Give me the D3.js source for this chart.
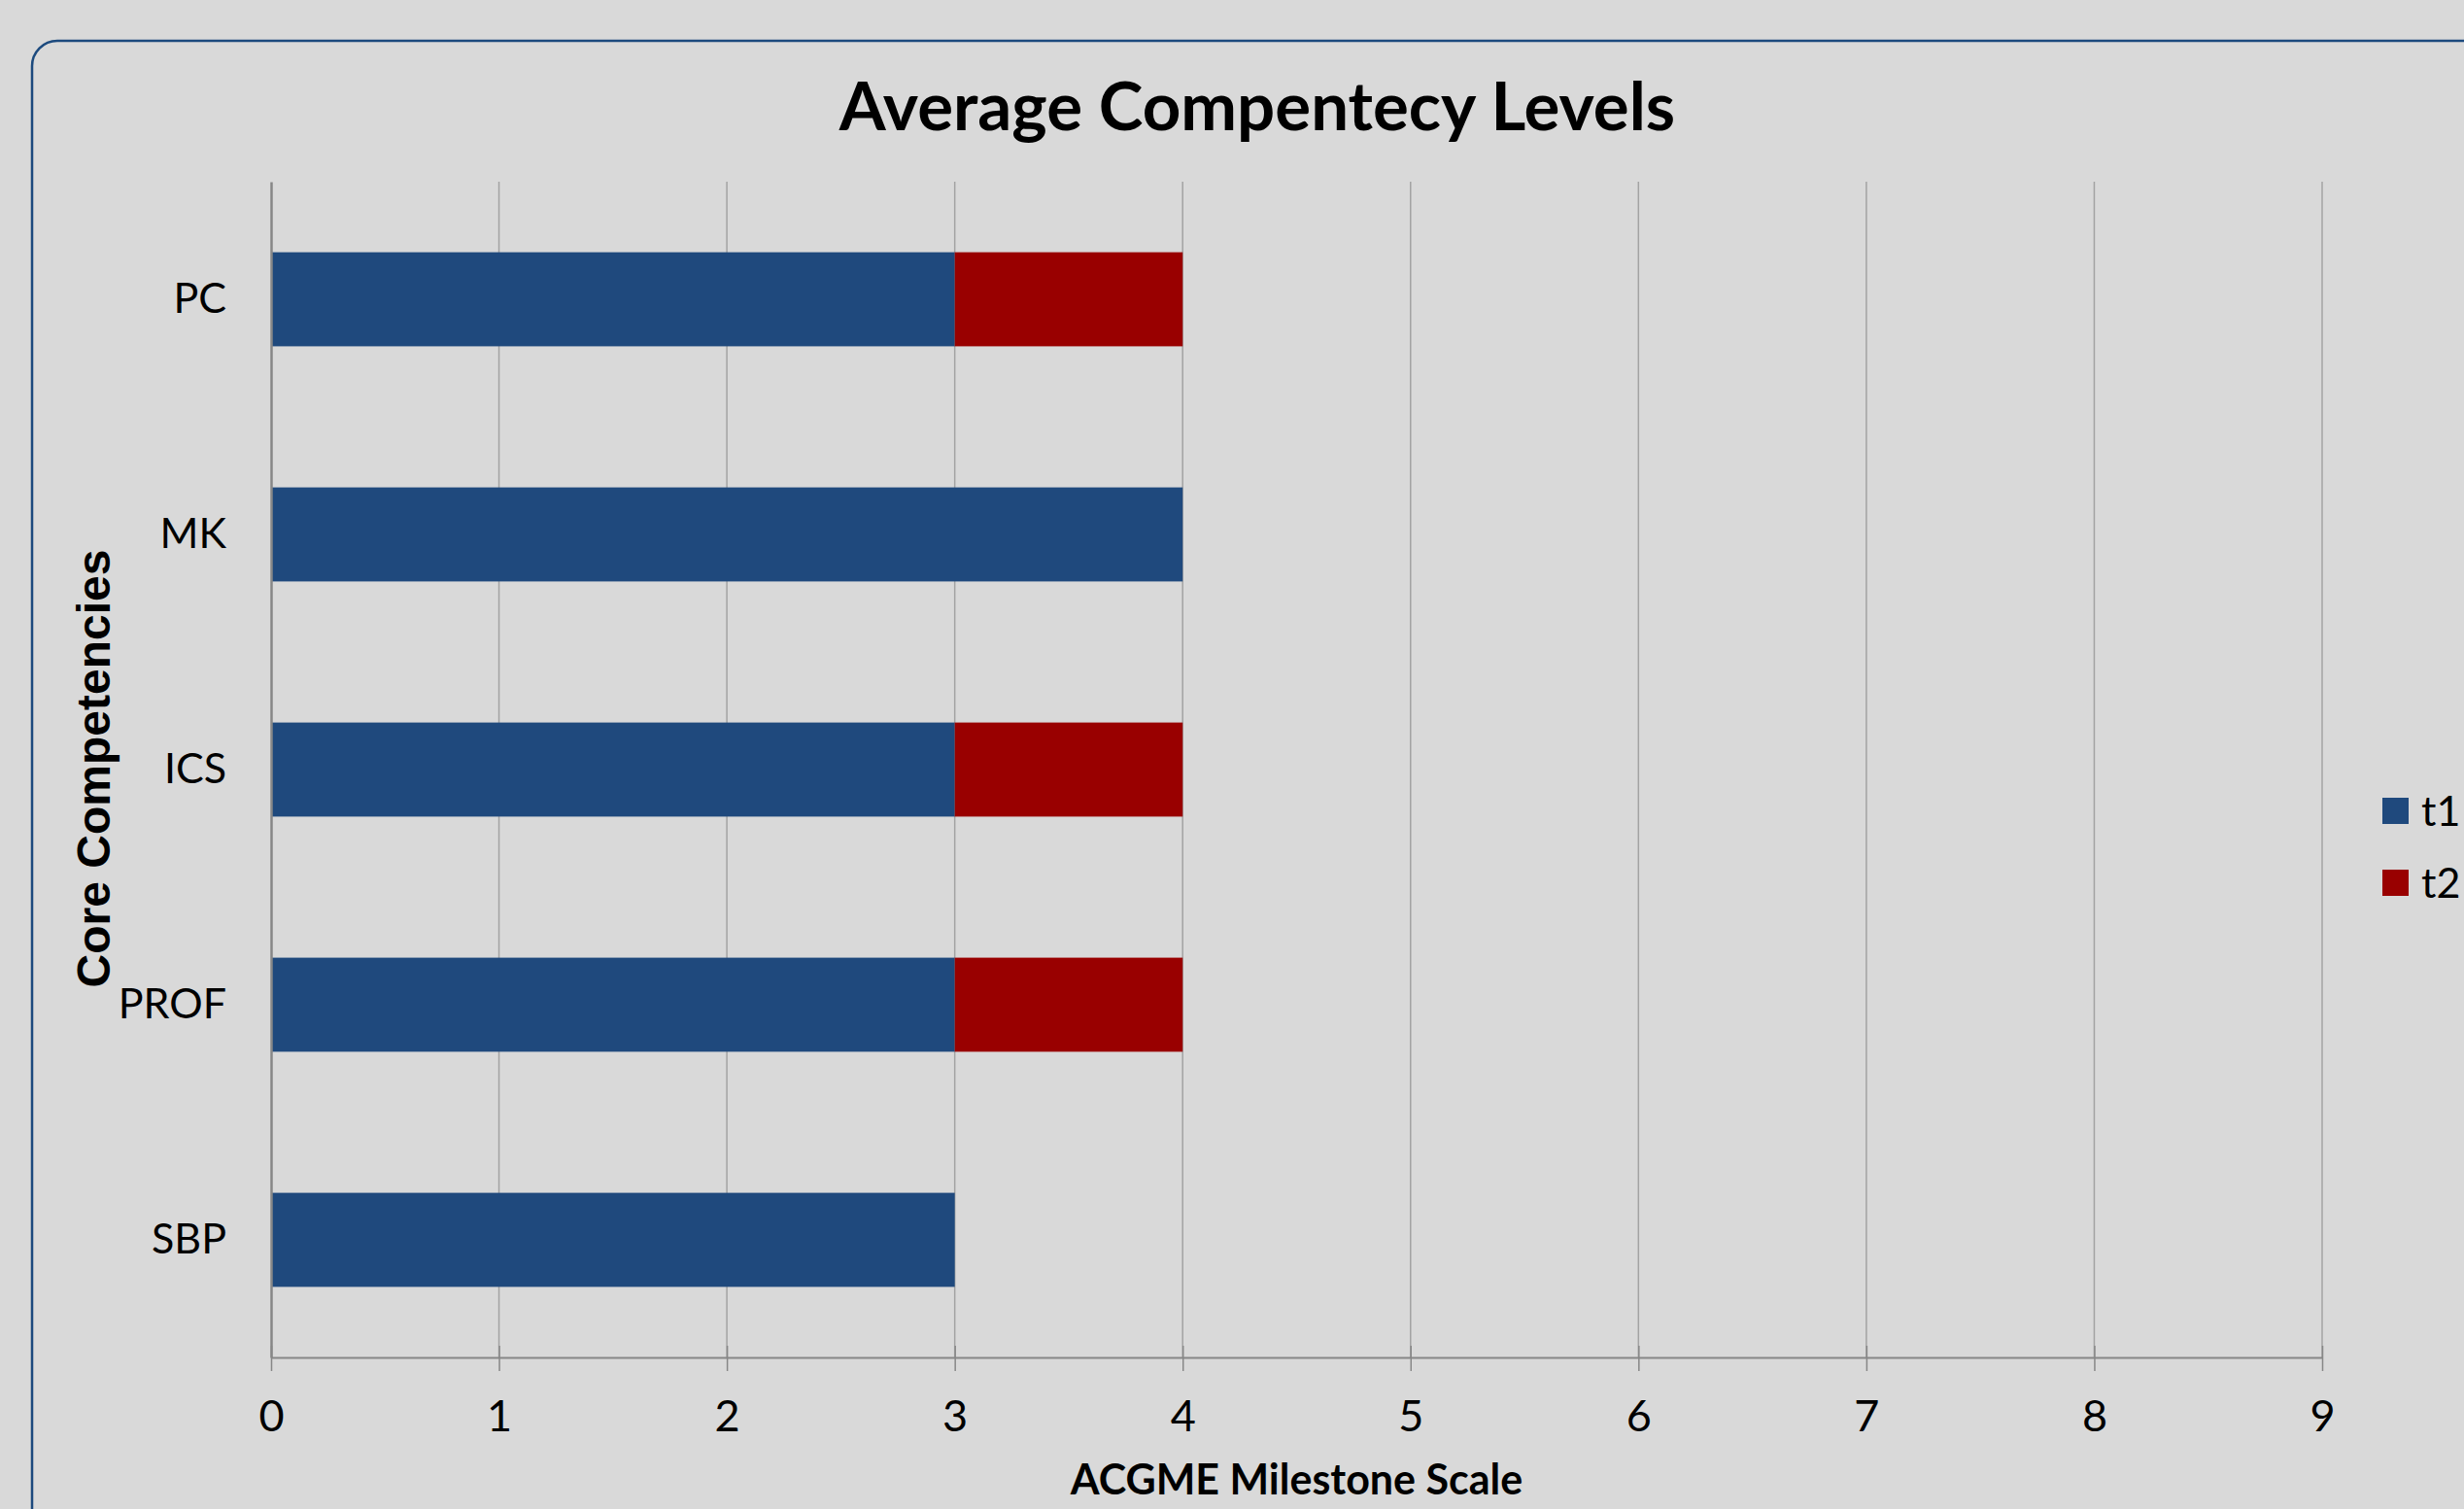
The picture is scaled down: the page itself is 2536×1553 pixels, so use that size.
<!DOCTYPE html>
<html>
<head>
<meta charset="utf-8">
<script src="https://cdn.jsdelivr.net/npm/d3@7"></script>
<style>
  body { margin: 0; background: #d9d9d9; overflow: hidden; }
  svg { display: block; }
</style>
</head>
<body>
<div id="container"></div>
<script>
// data
var categories = ["PC", "MK", "ICS", "PROF", "SBP"];
var seriesNames = ["t1", "t2"];
var t1Values = [3, 4, 3, 3, 3];
var t2Values = [1, 0, 1, 1, 0];
var xTickValues = [0, 1, 2, 3, 4, 5, 6, 7, 8, 9];

(function () {
    var width = 2536;
    var height = 1553;
    var margin = { left: 279, right: 146, top: 187, bottom: 156 };
    var labelFont = "Lato, 'Open Sans', sans-serif";

    var svg = d3.select("#container")
        .append("svg")
        .attr("width", width)
        .attr("height", height);

    // chart frame with rounded corner (runs off the page right and bottom)
    svg.append("rect")
        .attr("x", 33)
        .attr("y", 42)
        .attr("width", 2650)
        .attr("height", 1650)
        .attr("rx", 26)
        .style("fill", "#d9d9d9")
        .style("stroke", "#1c4a7e")
        .style("stroke-width", 2.5);

    // build rows for d3.stack()
    var rows = categories.map(function (c, i) {
        return { cat: c, t1: t1Values[i], t2: t2Values[i] };
    });
    var stacked = d3.stack().keys(seriesNames)(rows);

    var x = d3.scaleLinear()
        .domain([0, 9])
        .range([margin.left, width - margin.right]);

    var y = d3.scaleBand()
        .domain(categories)
        .range([margin.top, height - margin.bottom])
        .paddingInner(0.6)
        .paddingOuter(0.3);

    var color = d3.scaleOrdinal()
        .domain(seriesNames)
        .range(["#1f497d", "#990000"]);

    // vertical gridlines
    svg.append("g")
        .selectAll("line")
        .data(xTickValues.slice(1))
        .enter()
        .append("line")
        .attr("x1", function (d) { return x(d); })
        .attr("x2", function (d) { return x(d); })
        .attr("y1", margin.top)
        .attr("y2", height - margin.bottom)
        .style("stroke", "#a3a3a3")
        .style("stroke-width", 1.5);

    // bars
    svg.append("g")
        .selectAll("g")
        .data(stacked)
        .enter()
        .append("g")
        .style("fill", function (d) { return color(d.key); })
        .selectAll("rect")
        .data(function (d) { return d; })
        .enter()
        .append("rect")
        .attr("x", function (d) { return x(d[0]); })
        .attr("y", function (d) { return y(d.data.cat); })
        .attr("width", function (d) { return x(d[1]) - x(d[0]); })
        .attr("height", y.bandwidth());

    // x axis with crossing ticks
    var xAxis = svg.append("g")
        .attr("transform", "translate(0," + (height - margin.bottom) + ")")
        .call(d3.axisBottom(x).tickValues(xTickValues).tickSizeInner(14).tickSizeOuter(0).tickPadding(30));
    xAxis.select(".domain").style("stroke", "#878787").style("stroke-width", 2);
    xAxis.selectAll(".tick line")
        .attr("y1", -12)
        .style("stroke", "#878787")
        .style("stroke-width", 1.5);
    xAxis.selectAll(".tick text")
        .style("font-family", labelFont)
        .style("font-size", "45px")
        .style("fill", "#000");

    // y axis
    var yAxis = svg.append("g")
        .attr("transform", "translate(" + margin.left + ",0)")
        .call(d3.axisLeft(y).tickSize(0).tickPadding(46));
    yAxis.select(".domain").style("stroke", "#878787").style("stroke-width", 2.5);
    yAxis.selectAll(".tick text")
        .style("font-family", labelFont)
        .style("font-size", "43px")
        .style("fill", "#000");

    // title
    svg.append("text")
        .attr("x", 1294)
        .attr("y", 134)
        .attr("text-anchor", "middle")
        .style("font-family", labelFont)
        .style("font-weight", "bold")
        .style("font-size", "69px")
        .text("Average Compentecy Levels");

    // axis titles
    svg.append("text")
        .attr("x", (x(0) + x(9)) / 2)
        .attr("y", 1538)
        .attr("text-anchor", "middle")
        .style("font-family", labelFont)
        .style("font-weight", "bold")
        .style("font-size", "43px")
        .text("ACGME Milestone Scale");

    svg.append("text")
        .attr("transform", "translate(113,791) rotate(-90)")
        .attr("text-anchor", "middle")
        .style("font-family", "'Liberation Sans', Arial, sans-serif")
        .style("font-weight", "bold")
        .style("font-size", "48px")
        .text("Core Competencies");

    // legend
    var legend = svg.append("g")
        .selectAll("g")
        .data(seriesNames)
        .enter()
        .append("g")
        .attr("transform", function (d, i) { return "translate(2452," + (821 + i * 74) + ")"; });
    legend.append("rect")
        .attr("width", 27)
        .attr("height", 27)
        .style("fill", function (d) { return color(d); });
    legend.append("text")
        .attr("x", 40)
        .attr("y", 29)
        .style("font-family", labelFont)
        .style("font-size", "43px")
        .text(function (d) { return d; });
})();
</script>
</body>
</html>
